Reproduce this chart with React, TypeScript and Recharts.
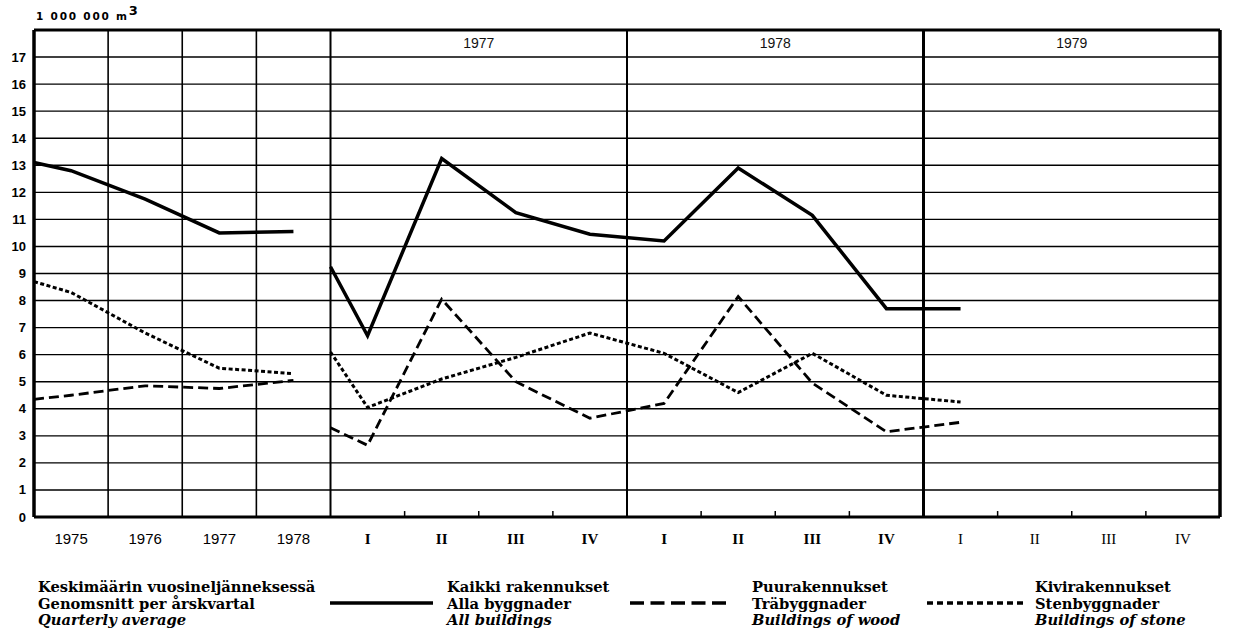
import React from 'react';
import {
  LineChart,
  Line,
  XAxis,
  YAxis,
  CartesianGrid,
  ReferenceLine,
  ReferenceArea,
} from 'recharts';

// x positions: 0 = left edge, annual column centres 0.5..3.5, gap, 4 = start of quarterly part,
// quarter centres 4.5..12.5
const positions = [0, 0.5, 1.5, 2.5, 3.5, 3.75, 4, 4.5, 5.5, 6.5, 7.5, 8.5, 9.5, 10.5, 11.5, 12.5];
const allBuildings = [13.1, 12.8, 11.75, 10.5, 10.55, null, 9.25, 6.7, 13.25, 11.25, 10.45, 10.2, 12.9, 11.15, 7.7, 7.7];
const woodBuildings = [4.35, 4.5, 4.85, 4.75, 5.05, null, 3.3, 2.65, 8.05, 5.0, 3.65, 4.2, 8.15, 4.95, 3.15, 3.5];
const stoneBuildings = [8.7, 8.3, 6.8, 5.5, 5.3, null, 6.1, 4.05, 5.1, 5.9, 6.8, 6.05, 4.6, 6.05, 4.5, 4.25];

const xTickPositions = [0.5, 1.5, 2.5, 3.5, 4.5, 5.5, 6.5, 7.5, 8.5, 9.5, 10.5, 11.5, 12.5, 13.5, 14.5, 15.5];
const xTickLabels = ['1975', '1976', '1977', '1978', 'I', 'II', 'III', 'IV', 'I', 'II', 'III', 'IV', 'I', 'II', 'III', 'IV'];
const yTicks = [0, 1, 2, 3, 4, 5, 6, 7, 8, 9, 10, 11, 12, 13, 14, 15, 16, 17];
const yearHeaders = [
  { label: '1977', from: 4, to: 8 },
  { label: '1978', from: 8, to: 12 },
  { label: '1979', from: 12, to: 16 },
];
const annualDividers = [1, 2, 3];
const sectionDividers = [4, 8, 12];
const quarterTicks = [5, 6, 7, 9, 10, 11, 13, 14, 15];

const data = positions.map((x, i) => ({
  x,
  all: allBuildings[i],
  wood: woodBuildings[i],
  stone: stoneBuildings[i],
}));

const legendTitle = ['Keskimäärin vuosineljänneksessä', 'Genomsnitt per årskvartal', 'Quarterly average'];
const legendAll = ['Kaikki rakennukset', 'Alla byggnader', 'All buildings'];
const legendWood = ['Puurakennukset', 'Träbyggnader', 'Buildings of wood'];
const legendStone = ['Kivirakennukset', 'Stenbyggnader', 'Buildings of stone'];

const SOLID_W = 3.5;
const DASH = '10 5';
const DOT = '4 2.5';

const LeftTick = (props: any) => {
  const { x, y, payload } = props;
  return (
    <text x={x} y={y} dy={4.5} textAnchor="end" fontFamily="Liberation Sans" fontWeight="bold" fontSize={13} fill="#000">
      {payload.value}
    </text>
  );
};

const RightTick = (props: any) => {
  const { x, y, payload } = props;
  return (
    <text x={x + 23} y={y} dy={4.5} textAnchor="end" fontFamily="Liberation Sans" fontWeight="bold" fontSize={13} fill="#000">
      {payload.value}
    </text>
  );
};

const XTick = (props: any) => {
  const { x, y, payload, index } = props;
  const i = xTickPositions.indexOf(payload.value);
  const label = xTickLabels[i >= 0 ? i : index];
  const isYear = i < 4;
  return (
    <text
      x={x}
      y={y}
      dy={27}
      textAnchor="middle"
      fontFamily={isYear ? 'Liberation Sans' : 'Liberation Serif'}
      fontWeight={!isYear && i < 12 ? 'bold' : 'normal'}
      fontSize={isYear ? 15 : 15}
      fill="#000"
    >
      {label}
    </text>
  );
};

const legendText: React.CSSProperties = {
  position: 'absolute',
  fontFamily: 'DejaVu Serif',
  fontWeight: 'bold',
  fontSize: 14.7,
  lineHeight: '16.5px',
  color: '#000',
  whiteSpace: 'nowrap',
};

const LegendBlock = ({ left, lines }: { left: number; lines: string[] }) => (
  <div style={{ ...legendText, left, top: 579 }}>
    <div>{lines[0]}</div>
    <div>{lines[1]}</div>
    <div style={{ fontStyle: 'italic' }}>{lines[2]}</div>
  </div>
);

export default function App() {
  return (
    <div style={{ position: 'absolute', left: 0, top: 0, width: 1253, height: 631, background: '#fff' }}>
      <div
        style={{
          position: 'absolute',
          left: 36,
          top: 8,
          fontFamily: 'DejaVu Sans',
          fontWeight: 'bold',
          fontSize: 10.5,
          letterSpacing: 1.8,
          color: '#000',
          whiteSpace: 'nowrap',
        }}
      >
        1 000 000 m<span style={{ fontSize: 13, position: 'relative', top: -5 }}>3</span>
      </div>
      <LineChart width={1253} height={631} data={data} margin={{ top: 30, right: 0, bottom: 0, left: 0 }}>
        <CartesianGrid vertical={false} stroke="#000" strokeWidth={1.4} />
        <XAxis
          dataKey="x"
          type="number"
          domain={[0, 16]}
          ticks={xTickPositions}
          interval={0}
          height={114}
          axisLine={false}
          tickLine={false}
          tickSize={0}
          tickMargin={0}
          tick={<XTick />}
        />
        <YAxis
          domain={[0, 18]}
          ticks={yTicks}
          interval={0}
          width={34}
          axisLine={false}
          tickLine={false}
          tickSize={0}
          tickMargin={8}
          tick={<LeftTick />}
        />
        <YAxis
          yAxisId="r"
          orientation="right"
          domain={[0, 18]}
          ticks={yTicks}
          interval={0}
          width={33}
          axisLine={false}
          tickLine={false}
          tickSize={0}
          tickMargin={0}
          tick={<RightTick />}
        />
        {yearHeaders.map((h) => (
          <ReferenceArea
            key={h.label}
            x1={h.from}
            x2={h.to}
            y1={17}
            y2={18}
            fill="none"
            fillOpacity={0}
            stroke="none"
            label={{ value: h.label, position: 'center', fill: '#111', fontSize: 14, fontFamily: 'Liberation Sans' }}
          />
        ))}
        {annualDividers.map((v) => (
          <ReferenceLine key={'a' + v} x={v} stroke="#000" strokeWidth={1.6} />
        ))}
        {sectionDividers.map((v) => (
          <ReferenceLine key={'s' + v} x={v} stroke="#000" strokeWidth={v === 12 ? 3 : 2} />
        ))}
        {quarterTicks.map((v) => (
          <ReferenceLine
            key={'q' + v}
            segment={[
              { x: v, y: 0 },
              { x: v, y: 0.22 },
            ]}
            stroke="#000"
            strokeWidth={1.5}
          />
        ))}
        <ReferenceLine y={18} stroke="#000" strokeWidth={2.8} />
        <ReferenceLine y={0} stroke="#000" strokeWidth={2.8} />
        <ReferenceLine x={0} stroke="#000" strokeWidth={3.5} />
        <ReferenceLine x={16} stroke="#000" strokeWidth={3.5} />
        <Line type="linear" dataKey="all" stroke="#000" strokeWidth={SOLID_W} dot={false} isAnimationActive={false} connectNulls={false} strokeLinejoin="miter" />
        <Line type="linear" dataKey="wood" stroke="#000" strokeWidth={2.8} strokeDasharray={DASH} dot={false} isAnimationActive={false} connectNulls={false} />
        <Line type="linear" dataKey="stone" stroke="#000" strokeWidth={3} strokeDasharray={DOT} dot={false} isAnimationActive={false} connectNulls={false} />
      </LineChart>

      <LegendBlock left={38} lines={legendTitle} />
      <LegendBlock left={447} lines={legendAll} />
      <LegendBlock left={752} lines={legendWood} />
      <LegendBlock left={1035} lines={legendStone} />
      <svg style={{ position: 'absolute', left: 0, top: 590 }} width={1253} height={30}>
        <line x1={330} x2={433} y1={13} y2={13} stroke="#000" strokeWidth={3.5} />
        <line x1={630} x2={728} y1={13} y2={13} stroke="#000" strokeWidth={3.5} strokeDasharray="14 6.5" />
        <line x1={927} x2={1023} y1={13} y2={13} stroke="#000" strokeWidth={3.5} strokeDasharray="6 4" />
      </svg>
    </div>
  );
}
